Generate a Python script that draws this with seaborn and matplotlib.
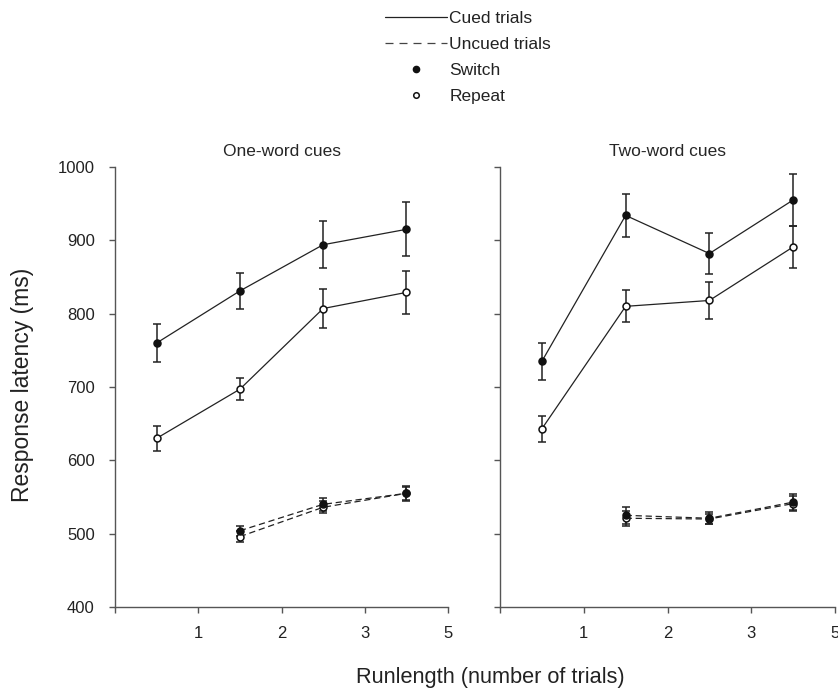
import matplotlib
matplotlib.use("Agg")
import matplotlib.pyplot as plt
from matplotlib.lines import Line2D
import seaborn as sns
import pandas as pd

sns.set_theme(style="ticks")
plt.rcParams['font.family'] = ['Liberation Sans', 'DejaVu Sans']

panels = ["One-word cues", "Two-word cues"]
x_cued = [0.5, 1.5, 2.5, 3.5]
x_uncued = [1.5, 2.5, 3.5]
tick_pos = [0, 1, 2, 3, 4]
tick_labels = ["", "1", "2", "3", "5"]

# One-word cues
one_cued_switch = [760, 831, 894, 915]
one_cued_switch_err = [26, 24, 32, 37]
one_cued_repeat = [630, 697, 807, 829]
one_cued_repeat_err = [17, 15, 26, 29]
one_uncued_switch = [504, 540, 555]
one_uncued_switch_err = [7, 9, 10]
one_uncued_repeat = [496, 536, 555]
one_uncued_repeat_err = [7, 8, 9]

# Two-word cues
two_cued_switch = [735, 934, 882, 955]
two_cued_switch_err = [25, 29, 28, 35]
two_cued_repeat = [643, 810, 818, 891]
two_cued_repeat_err = [18, 22, 25, 29]
two_uncued_switch = [525, 521, 543]
two_uncued_switch_err = [12, 8, 11]
two_uncued_repeat = [521, 520, 541]
two_uncued_repeat_err = [10, 7, 10]

rows = []
def add(panel, cue, trial, xs, ys, es):
    for x, y, e in zip(xs, ys, es):
        rows.append(dict(panel=panel, cue=cue, trial=trial, x=x, y=y, err=e))

add(panels[0], "Cued", "Switch", x_cued, one_cued_switch, one_cued_switch_err)
add(panels[0], "Cued", "Repeat", x_cued, one_cued_repeat, one_cued_repeat_err)
add(panels[0], "Uncued", "Switch", x_uncued, one_uncued_switch, one_uncued_switch_err)
add(panels[0], "Uncued", "Repeat", x_uncued, one_uncued_repeat, one_uncued_repeat_err)
add(panels[1], "Cued", "Switch", x_cued, two_cued_switch, two_cued_switch_err)
add(panels[1], "Cued", "Repeat", x_cued, two_cued_repeat, two_cued_repeat_err)
add(panels[1], "Uncued", "Switch", x_uncued, two_uncued_switch, two_uncued_switch_err)
add(panels[1], "Uncued", "Repeat", x_uncued, two_uncued_repeat, two_uncued_repeat_err)
df = pd.DataFrame(rows)

fig = plt.figure(figsize=(8.38, 6.9), dpi=100)
ax_l = fig.add_axes([115/838, 1-607/690, 333/838, 440/690])
ax_r = fig.add_axes([500/838, 1-607/690, 335/838, 440/690], sharey=ax_l)

axis_col = "#555555"
for ax, panel in zip([ax_l, ax_r], panels):
    sub = df[df.panel == panel]
    for (cue, trial), g in sub.groupby(["cue", "trial"]):
        ls = "-" if cue == "Cued" else (0, (5, 3))
        ax.errorbar(g.x, g.y, yerr=g.err, fmt="none", ecolor="#222222",
                    elinewidth=1.1, capsize=3.2, capthick=1.1, zorder=2)
        sns.lineplot(data=g, x="x", y="y", ax=ax, color="#222222",
                     linewidth=0.9, linestyle=ls, marker="o",
                     markersize=5,
                     markerfacecolor="#111111" if trial == "Switch" else "white",
                     markeredgecolor="#111111", markeredgewidth=1.1,
                     legend=False, zorder=3)
    ax.set_xlim(0, 4)
    ax.set_ylim(400, 1000)
    ax.set_xticks(tick_pos)
    ax.set_xticklabels(tick_labels)
    ax.set_yticks([400, 500, 600, 700, 800, 900, 1000])
    ax.set_xlabel("")
    ax.set_ylabel("")
    ax.set_title(panel, fontsize=12.5, pad=8)
    for s in ["top", "right"]:
        ax.spines[s].set_visible(False)
    for s in ["left", "bottom"]:
        ax.spines[s].set_color(axis_col)
        ax.spines[s].set_linewidth(1.0)
    ax.tick_params(axis="both", direction="out", length=4.5, width=1.0,
                   color=axis_col, labelsize=12, pad=10, labelcolor="#222222")
    ax.patch.set_alpha(0)

ax_l.tick_params(axis="x", pad=9)
ax_r.tick_params(axis="x", pad=9)
plt.setp(ax_r.get_yticklabels(), visible=False)

fig.text(22/838, 1-385/690, "Response latency (ms)", rotation=90,
         ha="center", va="center", fontsize=16.5, color="#222222")
fig.text(490/838, 1-677/690, "Runlength (number of trials)",
         ha="center", va="center", fontsize=15.7, color="#222222")

handles = [
    Line2D([], [], color="#222222", lw=0.9, ls="-"),
    Line2D([], [], color="#444444", lw=0.9, ls=(0, (6.4, 4.8))),
    Line2D([], [], color="none", marker="o", markersize=4.5,
           markerfacecolor="#111111", markeredgecolor="#111111"),
    Line2D([], [], color="none", marker="o", markersize=4,
           markerfacecolor="white", markeredgecolor="#111111", markeredgewidth=1.1),
]
labels = ["Cued trials", "Uncued trials", "Switch", "Repeat"]
fig.legend(handles, labels, loc="upper left", bbox_to_anchor=(378/838, 1-4/690),
           frameon=False, fontsize=12.5, handlelength=3.55, handletextpad=0.15,
           labelspacing=0.62, borderaxespad=0, labelcolor="#222222")

fig.savefig("out.png", dpi=100)
